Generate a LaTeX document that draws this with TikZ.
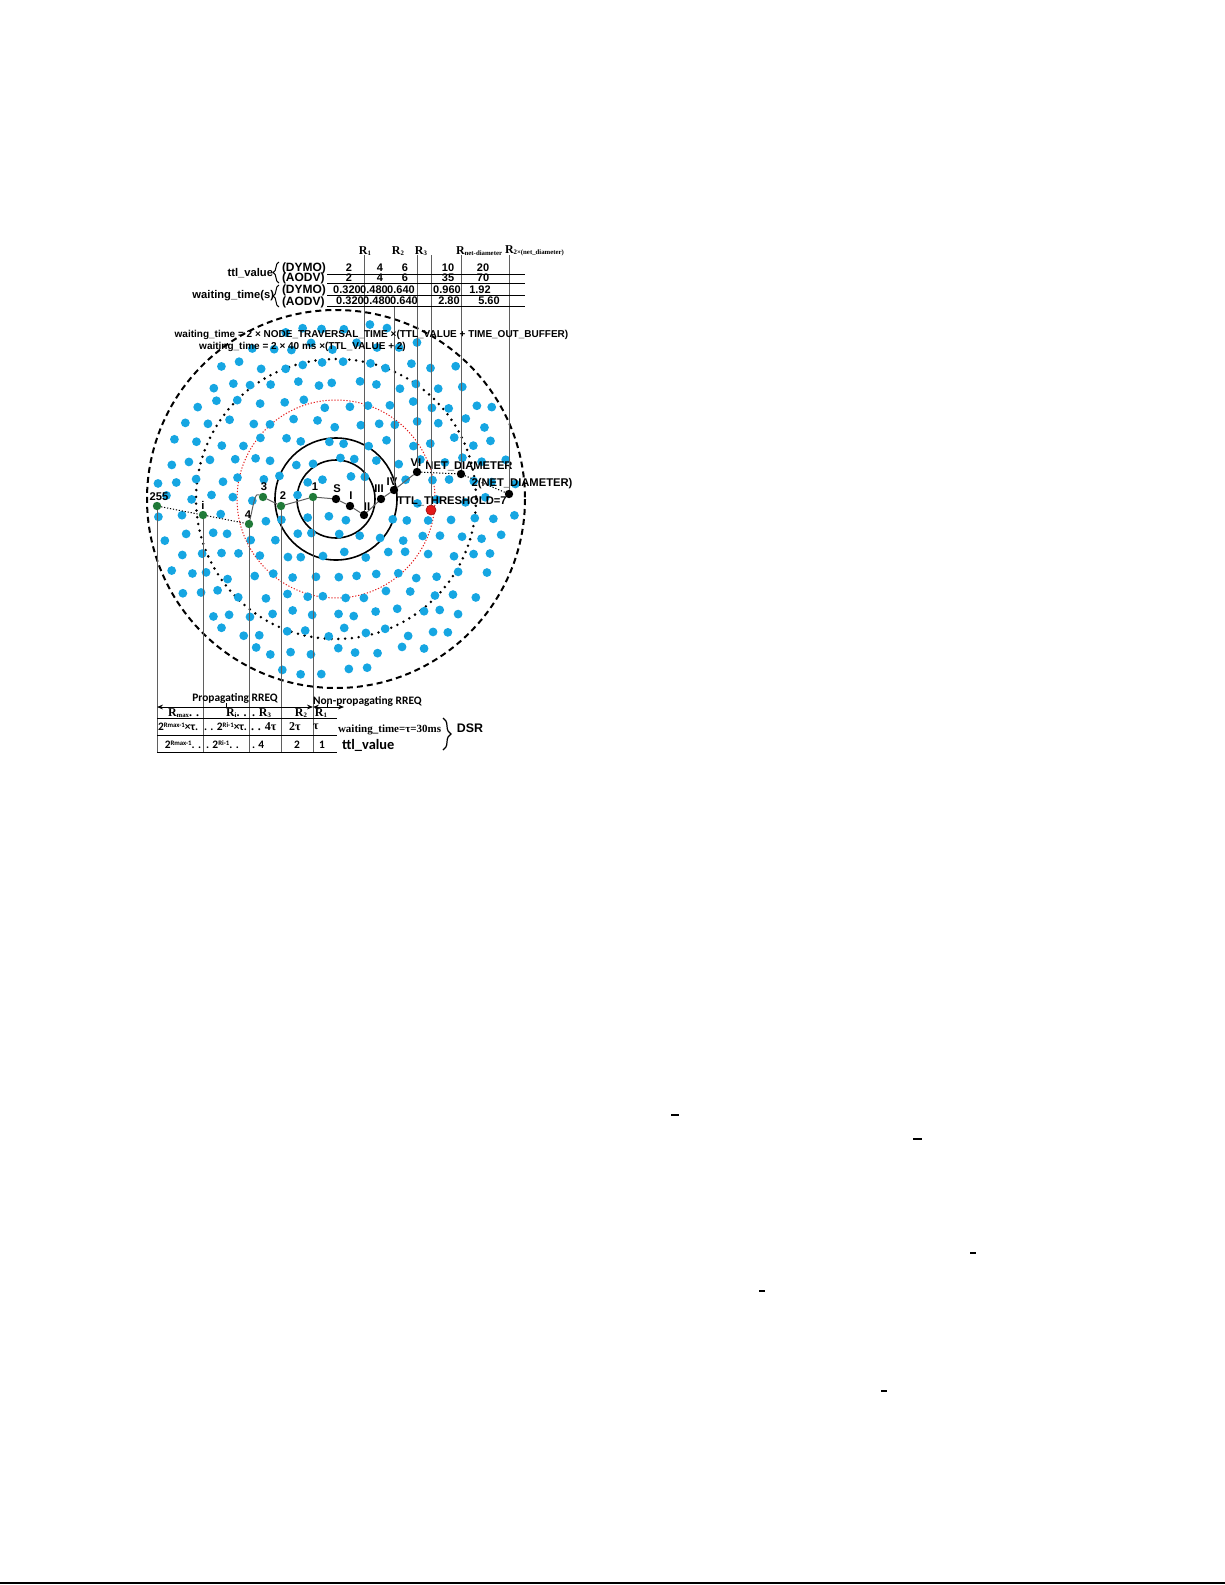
\documentclass[tikz,border=0pt]{standalone}
\usepackage{fontspec}
\setmainfont{Liberation Serif}
\setsansfont{Liberation Sans}
\newfontfamily\calfont{Carlito}
\usetikzlibrary{arrows.meta,decorations.pathreplacing}
\definecolor{dotblue}{RGB}{22,166,226}
\definecolor{hopgreen}{RGB}{32,122,56}
\definecolor{hopred}{RGB}{226,24,24}
\definecolor{wiregray}{RGB}{95,95,95}
\newif\ifkeepdot
\newcommand\lowtag[1]{\raisebox{-0.7pt}{\fontsize{3.4}{4}\selectfont #1}}
\newcommand\hightag[1]{\raisebox{1.6pt}{\fontsize{3.4}{4}\selectfont #1}}
\begin{document}
\begin{tikzpicture}
      [x=0.5pt, y=-0.5pt,
      every node/.style={inner sep=0pt, outer sep=0pt},
      hop/.style={circle, fill=black, minimum size=4.2pt},
      ghop/.style={hop, fill=hopgreen},
      rhop/.style={hop, fill=hopred, draw=hopred!70!black, line width=0.3pt, minimum size=5pt},
      tag/.style={font=\sffamily\bfseries\fontsize{5.6}{6}\selectfont},
      cell/.style={font=\sffamily\bfseries\fontsize{5.5}{6}\selectfont},
      formula/.style={font=\sffamily\bfseries\fontsize{5}{6}\selectfont},
      rlab/.style={font=\rmfamily\bfseries\fontsize{6}{7}\selectfont},
      clab/.style={font=\calfont\bfseries\fontsize{5.7}{7}\selectfont},
      wire/.style={draw=wiregray, line width=0.5pt},
      rule/.style={draw=black, line width=0.5pt},
      hopdots/.style={draw=black, line width=0.5pt, dash pattern=on 0.6pt off 0.9pt},
      ]
      \useasboundingbox (0,0) rectangle (1225,1585);
      \coordinate (c) at (336,499);
      % rings
      \draw[line width=1pt, dash pattern=on 3pt off 2pt] (c) circle[radius=189];
      \draw[line width=1.4pt, line cap=round, dash pattern=on 0pt off 3.4pt] (c) circle[radius=140];
      \draw[hopred, line width=0.5pt, dash pattern=on 0.6pt off 0.9pt] (c) circle[radius=99];
      \draw[line width=0.8pt] (c) circle[radius=61];
      \draw[line width=0.8pt] (c) circle[radius=39];
      % scattered nodes
      \pgfmathsetseed{4242}
      \foreach \j in {-10,...,10}{
        \foreach \i in {-9,...,9}{
          \pgfmathsetmacro\dx{\i*21+mod(abs(\j),2)*10.5+9*rnd-4.5}
          \pgfmathsetmacro\dy{\j*19+9*rnd-4.5}
          \pgfmathsetmacro\dd{veclen(\dx/10,\dy/10)}
          \global\keepdottrue
          \ifdim\dd pt>18.1pt \global\keepdotfalse\fi
          \foreach \px/\py in {336/499,350/506,364/515,381/499,394/490,417/472,461/474,509/494,431/510,313/497,281/506,263/497,249/524,203/515,157/506}{
            \pgfmathsetmacro\ee{veclen((336+\dx-\px)/10,(499+\dy-\py)/10)}
            \ifdim\ee pt<1.05pt \global\keepdotfalse\fi
          }
          \ifkeepdot
            \fill[dotblue] ({336+\dx},{499+\dy}) circle[radius=4.4];
          \fi
        }}
      % route
      \node[hop] (s) at (336,499) {};
      \node[hop] (h1) at (350,506) {};
      \node[hop] (h2) at (364,515) {};
      \node[hop] (h3) at (381,499) {};
      \node[hop] (h4) at (394,490) {};
      \node[hop] (h6) at (417,472) {};
      \node[hop] (nd) at (461,474) {};
      \node[hop] (nd2) at (509,494) {};
      \node[rhop] (thr) at (431,510) {};
      \node[ghop] (g1) at (313,497) {};
      \node[ghop] (g2) at (281,506) {};
      \node[ghop] (g3) at (263,497) {};
      \node[ghop] (g4) at (249,524) {};
      \node[ghop] (gi) at (203,515) {};
      \node[ghop] (g255) at (157,506) {};
      \draw[wire] (g1) -- (s) -- (h1) -- (h2) -- (h3) -- (h4) -- (h6);
      \draw[wire] (g3) -- (g2) -- (g1);
      \draw[wire] (g4) .. controls (254,502) and (255,492) .. (g3);
      \draw[hopdots] (g255) -- (gi) -- (g4);
      \draw[hopdots] (h6) -- (nd) -- (nd2);
      \node[tag] at (337,489) {S};
      \node[tag] at (351,496) {I};
      \node[tag] at (367,507) {II};
      \node[tag] at (379,489) {III};
      \node[tag] at (392,482) {IV};
      \node[tag] at (416,463) {VI};
      \node[tag] at (469,466) {NET\_DIAMETER};
      \node[tag] at (522,484) {2(NET\_DIAMETER)};
      \node[tag] at (452,501) {TTL\_THRESHOLD=7};
      \node[tag] at (315,487) {1};
      \node[tag] at (283,496) {2};
      \node[tag] at (264,487) {3};
      \node[tag] at (248,515) {4};
      \node[tag] at (203,505) {i};
      \node[tag] at (159,497) {255};
      % risers
      \coordinate (top) at (0,255);
      \coordinate (topb) at (0,306);
      \coordinate (bot) at (0,752);
      \foreach \n in {h2,h6,thr,nd,nd2}
        \draw[wire] (\n) -- (\n |- top);
      \draw[wire] (h4) -- (h4 |- topb);
      \foreach \n in {g255,gi,g4,g2,g1}
        \draw[wire] (\n) -- (\n |- bot);
      % upper table
      \node[rlab] at (365,251) {R\lowtag{1}};
      \node[rlab] at (398,251) {R\lowtag{2}};
      \node[rlab] at (421,251) {R\lowtag{3}};
      \node[rlab, anchor=west] at (456,251) {R\lowtag{net-diameter}};
      \node[rlab, anchor=west] at (505,251) {R\lowtag{2×(net\_diameter)}};
      \node[tag, anchor=east] (ttl) at (273,273) {ttl\_value};
      \node[tag, anchor=east] (wt) at (274,296) {waiting\_time(s)};
      \draw[decorate, decoration={brace, amplitude=3pt}, line width=0.5pt] (279,283) -- (279,262);
      \draw[decorate, decoration={brace, amplitude=3pt}, line width=0.5pt] (279,307) -- (279,285);
      \node[tag, font=\sffamily\bfseries\fontsize{6}{6}\selectfont, anchor=west] at (282,268) {(DYMO)};
      \node[tag, font=\sffamily\bfseries\fontsize{6}{6}\selectfont, anchor=west] at (282,278) {(AODV)};
      \node[tag, font=\sffamily\bfseries\fontsize{6}{6}\selectfont, anchor=west] at (282,290) {(DYMO)};
      \node[tag, font=\sffamily\bfseries\fontsize{6}{6}\selectfont, anchor=west] at (282,302) {(AODV)};
      \foreach \x/\a/\b in {349/2/2, 380/4/4, 405/6/6, 448/10/35, 483/20/70}{
        \node[cell] at (\x,268) {\a};
        \node[cell] at (\x,278) {\b};
      }
      \foreach \x/\a in {347/0.320, 374/0.480, 401/0.640, 447/0.960, 480/1.92}
        \node[cell] at (\x,290) {\a};
      \foreach \x/\a in {350/0.320, 377/0.480, 404/0.640, 449/2.80, 489/5.60}
        \node[cell] at (\x,301) {\a};
      \foreach \y in {274,283,295,306}
        \draw[rule] (327,\y) -- (525,\y);
      \node[formula] at (371.5,335) {waiting\_time = 2 × NODE\_TRAVERSAL\_TIME ×(TTL\_VALUE + TIME\_OUT\_BUFFER)};
      \node[formula] at (302.5,347) {waiting\_time = 2 × 40 ms ×(TTL\_VALUE + 2)};
      % lower table
      \node[clab] at (235,698) {Propagating RREQ};
      \node[clab, anchor=west] at (313,701) {Non-propagating RREQ};
      \draw[rule, {Stealth[length=3pt,width=2.4pt]}-{Stealth[length=3pt,width=2.4pt]}] (g255 |- 0,707) -- (g1 |- 0,707);
      \draw[rule, {Stealth[length=3pt,width=2.4pt]}-{Stealth[length=3pt,width=2.4pt]}] (g1 |- 0,707) -- (344,707);
      \draw[rule] (226,703) -- (226,707);
      \draw[rule] (327,703) -- (327,707);
      \foreach \y in {718,735,752}
        \draw[rule] (g255 |- 0,\y) -- (337,\y);
      \node[rlab, anchor=west] at (168,713) {R\lowtag{max}. .};
      \node[rlab, anchor=west] at (226,713) {R\lowtag{i}. .};
      \node[rlab, anchor=west] at (252,713) {. R\lowtag{3}};
      \node[rlab] at (301,713) {R\lowtag{2}};
      \node[rlab] at (321,713) {R\lowtag{1}};
      \node[clab, anchor=west] at (158,727) {2\hightag{Rmax-1}×τ.};
      \node[clab, anchor=west] at (204,727) {. . 2\hightag{Ri-1}×τ.};
      \node[rlab, anchor=west] at (251,727) {. . 4τ};
      \node[rlab] at (295,727) {2τ};
      \node[rlab] at (316,727) {τ};
      \node[font=\rmfamily\bfseries\fontsize{5.5}{6}\selectfont, anchor=west] at (338,730) {waiting\_time=τ=30ms};
      \node[clab] at (183,745) {2\hightag{Rmax-1}. .};
      \node[clab, anchor=west] at (206,745) {. 2\hightag{Ri-1}. .};
      \node[clab, anchor=west] at (252,745) {. 4};
      \node[clab] at (297,745) {2};
      \node[clab] at (322,745) {1};
      \node[font=\calfont\bfseries\fontsize{7.2}{8}\selectfont, anchor=west] at (342,745) {ttl\_value};
      \draw[decorate, decoration={brace, amplitude=4pt}, line width=0.6pt] (443,718) -- (443,750);
      \node[font=\sffamily\bfseries\fontsize{6.2}{7}\selectfont] at (470,728) {DSR};
      % page marks
      \fill (671,1114) rectangle (679,1116);
      \fill (913,1138) rectangle (922,1140);
      \fill (970,1252) rectangle (976,1254);
      \fill (759,1290) rectangle (765,1292);
      \fill (881,1390) rectangle (887,1392);
      \draw[line width=0.6pt] (0,1583) -- (1225,1583);
\end{tikzpicture}
\end{document}
